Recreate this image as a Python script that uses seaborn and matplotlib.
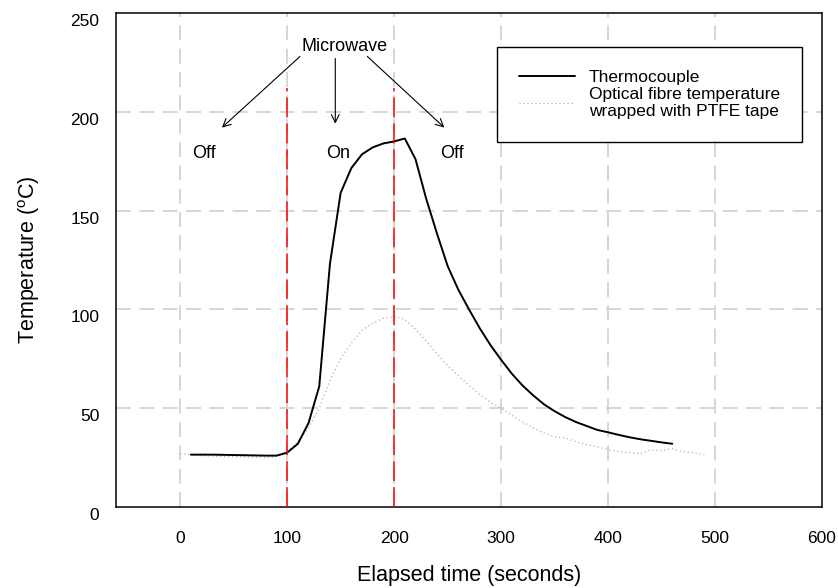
import numpy as np
import pandas as pd
import matplotlib
matplotlib.use('Agg')
import matplotlib.pyplot as plt
import matplotlib.transforms as mtransforms
import seaborn as sns

# Thermocouple readings (every 10 s)
tc_time = list(range(10, 470, 10))
tc_temp = [26.5, 26.5, 26.5, 26.4, 26.3, 26.2, 26.1, 26.0, 26.0, 27.5,
           32.0, 42.5, 61.0, 123.0, 159.0, 171.5, 178.5, 182.0, 184.0, 185.0,
           186.5, 176.0, 156.0, 138.5, 122.0, 110.0, 100.0, 90.5, 82.0, 74.5,
           67.5, 61.5, 56.5, 52.0, 48.5, 45.5, 43.0, 41.0, 39.0, 37.8,
           36.5, 35.3, 34.3, 33.5, 32.7, 32.0]

# Optical fibre readings (every 10 s)
of_time = list(range(0, 500, 10))
of_temp = [27.0, 26.5, 26.0, 25.8, 25.5, 25.5, 25.3, 25.2, 25.0, 25.5,
           28.0, 33.0, 40.0, 50.0, 64.0, 75.0, 83.0, 89.5, 93.0, 95.5,
           96.5, 95.0, 90.0, 84.0, 77.5, 71.5, 66.5, 61.5, 57.0, 53.0,
           50.0, 46.5, 43.0, 40.0, 37.5, 35.5, 35.0, 33.0, 31.5, 30.5,
           29.0, 28.0, 27.5, 27.0, 29.0, 28.5, 29.5, 28.0, 27.5, 26.5]

switch_times = [100, 200]
switch_top = 212

x_ticks = [0, 100, 200, 300, 400, 500, 600]
y_ticks = [0, 50, 100, 150, 200, 250]

sns.set_style('white')
plt.rcParams['font.family'] = ['Liberation Sans', 'DejaVu Sans']
plt.rcParams['text.color'] = 'black'
plt.rcParams['axes.labelcolor'] = 'black'

tc = pd.DataFrame({'time': tc_time, 'temp': tc_temp})
of = pd.DataFrame({'time': of_time, 'temp': of_temp})

fig = plt.figure(figsize=(8.38, 5.88), dpi=100)
ax = fig.add_axes([116 / 838, 1 - 507 / 588, 706 / 838, 494 / 588])

# grid
for x in x_ticks[:-1]:
    ax.axvline(x, color='#cfcfcf', lw=1.2, ls=(0, (9, 5)), zorder=1)
for y in y_ticks[1:-1]:
    ax.axhline(y, color='#cfcfcf', lw=1.2, ls=(0, (9, 5)), zorder=1)

sns.lineplot(data=of, x='time', y='temp', ax=ax, color='#b0b0b0', lw=0.9,
             ls=(0, (1, 2.2)), label='Optical fibre temperature\nwrapped with PTFE tape',
             zorder=2)
sns.lineplot(data=tc, x='time', y='temp', ax=ax, color='black', lw=1.4,
             label='Thermocouple', zorder=3)

ax.vlines(switch_times, 0, switch_top, colors='red', lw=1.1,
          linestyles=(0, (13, 4)), zorder=4)

ax.set_xlim(-60, 600)
ax.set_ylim(0, 250)
ax.set_xticks(x_ticks)
ax.set_yticks(y_ticks)
ax.tick_params(axis='x', direction='in', length=4, width=1.2, pad=17,
               labelsize=12.5, colors='black')
ax.tick_params(axis='y', direction='in', length=5, width=1.2, pad=12,
               labelsize=12.5, colors='black')
for lab in ax.get_yticklabels():
    lab.set_transform(lab.get_transform() +
                      mtransforms.ScaledTranslation(0, -5 / 72, fig.dpi_scale_trans))

for s in ax.spines.values():
    s.set_visible(True)
    s.set_color('black')
    s.set_linewidth(1.1)

ax.set_xlabel('Elapsed time (seconds)', fontsize=15.5, labelpad=14)
ax.set_ylabel('Temperature ($\\mathregular{^{o}}$C)', fontsize=15.5, labelpad=20)

# annotations
ax.text(154, 233, 'Microwave', ha='center', va='center', fontsize=13)
arrow = dict(arrowstyle='->', lw=0.8, color='black',
             shrinkA=0, shrinkB=0, mutation_scale=14)
ax.annotate('', xy=(39, 192), xytext=(112, 228), arrowprops=arrow)
ax.annotate('', xy=(145, 194), xytext=(145, 227), arrowprops=arrow)
ax.annotate('', xy=(247, 192), xytext=(175, 228), arrowprops=arrow)
ax.text(22, 179, 'Off', ha='center', va='center', fontsize=13)
ax.text(148, 179, 'On', ha='center', va='center', fontsize=13)
ax.text(254, 179, 'Off', ha='center', va='center', fontsize=13)

handles, labels = ax.get_legend_handles_labels()
leg = ax.legend(handles[::-1], labels[::-1], loc='upper right',
                bbox_to_anchor=(0.972, 0.931), borderaxespad=0,
                fontsize=12.5, frameon=True,
                fancybox=False, edgecolor='black', framealpha=1,
                borderpad=1.3, handlelength=3.2, handletextpad=0.8,
                labelspacing=0.1)
leg.get_frame().set_linewidth(1.0)
for t in leg.get_texts():
    t.set_multialignment('left')

fig.savefig('out.png', dpi=100)
